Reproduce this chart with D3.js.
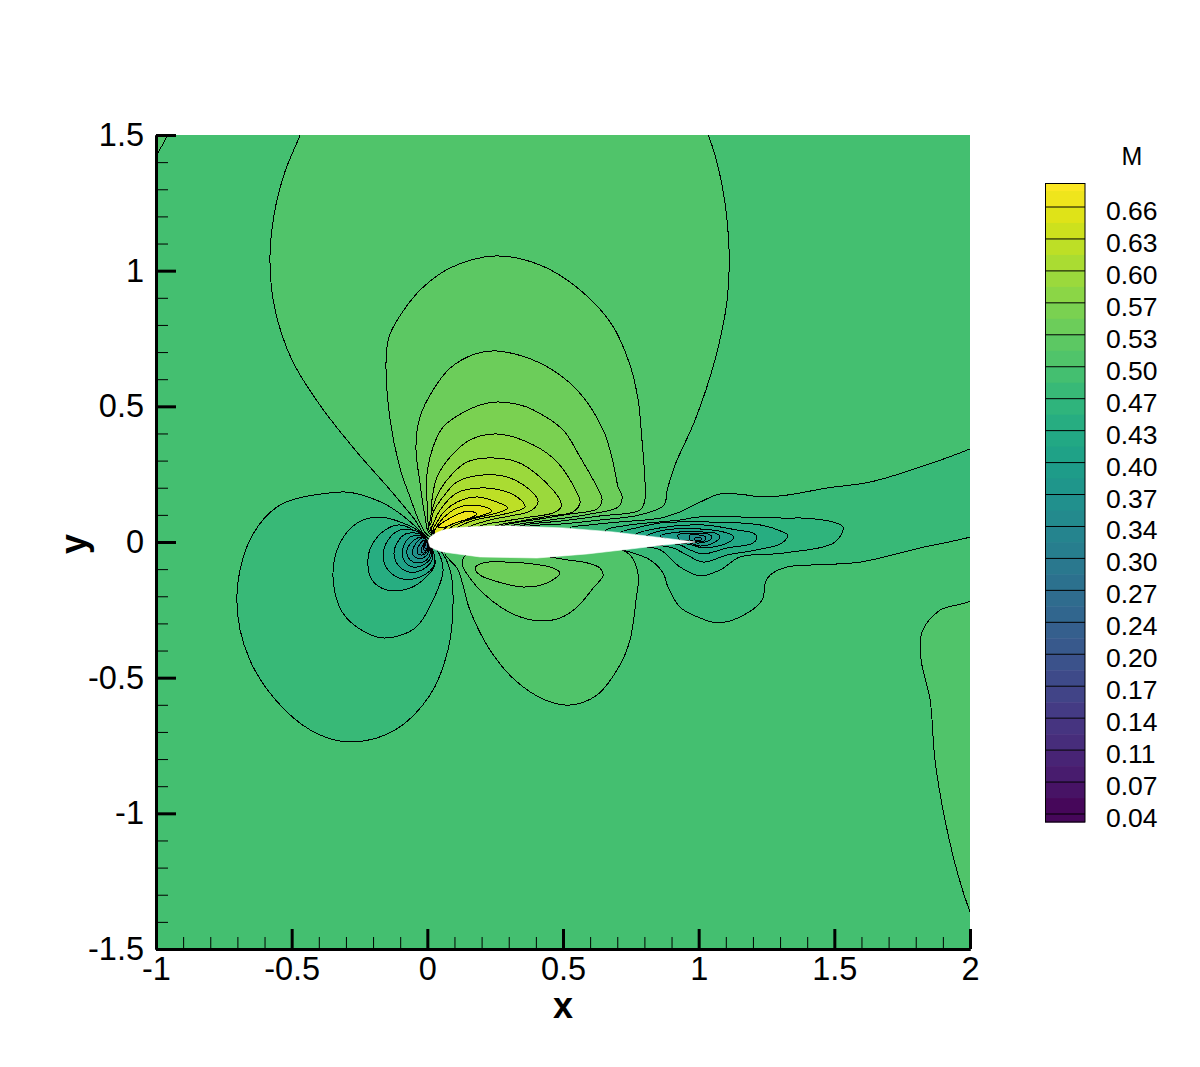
<!DOCTYPE html>
<html><head><meta charset="utf-8">
<style>html,body{margin:0;padding:0;background:#fff}svg{display:block}text{font-family:"Liberation Sans",Arial,sans-serif;fill:#000}</style>
<script src="https://cdn.jsdelivr.net/npm/d3@7"></script></head><body>
<svg id="c" width="1200" height="1067"></svg>
<script>
// ---- Mach values ----
const freestreamBand = 0.4887;
const colorbarLabels = ["0.66","0.63","0.60","0.57","0.53","0.50","0.47","0.43","0.40","0.37","0.34","0.30","0.27","0.24","0.20","0.17","0.14","0.11","0.07","0.04"];
const machMin = 0.0318, machMax = 0.6845;
const xTickValues = [-1,-0.5,0,0.5,1,1.5,2];
const yTickValues = [-1.5,-1,-0.5,0,0.5,1,1.5];

// ---- contours (x/c, y/c) ----
const U0=[[.003,.015],[-.045,.081],[-.137,.192],[-.266,.339],[-.396,.505],[-.499,.671],[-.561,.855],[-.580,1.032],[-.565,1.205],[-.525,1.364],[-.469,1.5],[-.451,1.556],[1.005,1.556],[1.035,1.5],[1.086,1.316],[1.112,1.076],[1.105,.892],[1.060,.671],[.987,.450],[.913,.284],[.884,.192],[.872,.136],[.784,.100],[.636,.081],[.489,.066],[.379,.059],[.194,.015]];
const U1=[[.006,.022],[-.027,.070],[-.064,.166],[-.101,.273],[-.137,.450],[-.152,.671],[-.140,.760],[-.090,.850],[-.020,.935],[.084,1.010],[.250,1.054],[.415,1.021],[.563,.929],[.681,.800],[.747,.652],[.777,.523],[.791,.376],[.802,.229],[.802,.155],[.784,.118],[.636,.096],[.489,.077],[.360,.063],[.194,.015]];
const U2=[[.010,.029],[-.008,.092],[-.027,.217],[-.042,.350],[-.027,.461],[.021,.560],[.084,.641],[.176,.693],[.257,.704],[.415,.660],[.552,.560],[.648,.413],[.685,.291],[.703,.203],[.718,.166],[.703,.129],[.600,.103],[.452,.081],[.323,.063],[.157,.015]];
const U3=[[.010,.037],[.003,.070],[-.001,.144],[-.001,.254],[.021,.350],[.058,.424],[.128,.475],[.194,.505],[.257,.516],[.342,.505],[.390,.487],[.500,.413],[.563,.313],[.625,.203],[.644,.155],[.625,.122],[.526,.103],[.415,.085],[.286,.063],[.157,.015]];
const U4=[[.014,.041],[.014,.081],[.017,.155],[.036,.240],[.084,.313],[.157,.376],[.257,.398],[.390,.358],[.478,.295],[.552,.181],[.563,.144],[.537,.111],[.452,.096],[.342,.077],[.250,.059],[.157,.015]];
const U5=[[.014,.044],[.021,.129],[.047,.192],[.095,.254],[.146,.295],[.231,.310],[.331,.295],[.415,.240],[.489,.155],[.493,.129],[.463,.107],[.379,.092],[.286,.077],[.194,.059],[.121,.015]];
const U6=[[.017,.048],[.021,.107],[.058,.166],[.109,.221],[.205,.247],[.305,.236],[.390,.181],[.408,.147],[.379,.114],[.305,.096],[.231,.081],[.150,.055],[.084,.015]];
const U7=[[.017,.044],[.025,.074],[.047,.118],[.109,.181],[.194,.199],[.268,.192],[.331,.166],[.360,.129],[.316,.111],[.250,.096],[.176,.081],[.113,.055],[.065,.015]];
const U8=[[.021,.044],[.032,.066],[.058,.107],[.109,.147],[.183,.166],[.257,.147],[.297,.125],[.257,.107],[.194,.092],[.139,.077],[.084,.052],[.047,.015]];
const U9=[[.025,.037],[.036,.059],[.058,.088],[.109,.125],[.157,.136],[.213,.129],[.238,.114],[.194,.096],[.139,.081],[.084,.063],[.058,.044],[.032,.015]];
const U10=[[.039,.055],[.084,.088],[.150,.114],[.183,.103],[.157,.088],[.102,.070],[.065,.055]];
const upperContours=[U0,U1,U2,U3,U4,U5,U6,U7,U8,U9,U10];
const upperBands=[.505,.5213,.5376,.554,.5703,.5866,.6029,.6192,.6355,.6519,.6682];

const W0=[[.636,.007],[.526,.052],[.600,.063],[.710,.074],[.858,.088],[.931,.111],[1.005,.147],[1.079,.177],[1.178,.173],[1.226,.166],[1.326,.173],[1.473,.199],[1.632,.221],[1.816,.276],[2.0,.343],[2.074,.376],[2.074,.044],[2.0,.018],[1.816,-.022],[1.595,-.074],[1.410,-.085],[1.326,-.092],[1.263,-.122],[1.245,-.151],[1.234,-.214],[1.153,-.276],[1.071,-.298],[1.005,-.280],[.931,-.240],[.887,-.166],[.869,-.114],[.821,-.066],[.747,-.037],[.636,-.011]];
const W1=[[.710,0],[.655,.041],[.747,.063],[.858,.074],[.931,.081],[.998,.092],[1.326,.088],[1.385,.088],[1.495,.074],[1.532,.055],[1.503,0],[1.311,-.041],[1.153,-.055],[1.079,-.103],[1.005,-.125],[.931,-.092],[.858,-.029],[.784,-.015]];
const W2=[[.784,0],[.710,.033],[.784,.055],[.858,.070],[1.016,.074],[1.226,.063],[1.311,.037],[1.329,.026],[1.307,-.004],[1.215,-.029],[1.105,-.048],[1.016,-.074],[.957,-.048],[.906,-.022],[.839,-.011]];
const W3=[[.821,0],[.766,.026],[.858,.052],[1.016,.063],[1.142,.044],[1.200,.033],[1.215,.018],[1.200,-.004],[1.105,-.022],[1.016,-.044],[.968,-.029],[.931,-.011],[.876,-.004]];
const W4=[[.858,.007],[.802,.018],[.858,.041],[1.005,.048],[1.105,.033],[1.130,.018],[1.105,-.004],[1.016,-.022],[.976,-.011],[.913,0]];
const W5=[[.895,.007],[.858,.022],[.931,.037],[1.005,.037],[1.060,.033],[1.079,.018],[1.060,0],[1.005,-.015],[.968,-.004],[.931,.004]];
const W6=[[.931,.007],[.924,.026],[.998,.033],[1.035,.029],[1.049,.018],[1.035,.004],[.998,-.004],[.961,.004]];
const W7=[[.968,.007],[.968,.026],[.998,.026],[1.020,.022],[1.027,.015],[1.020,.004],[.998,0],[.976,.004]];
const W8=[[.983,.011],[.998,.018],[1.009,.015],[1.009,.007],[.998,.004]];
const wakeContours=[W0,W1,W2,W3,W4,W5,W6,W7,W8];
const wakeBands=[.4724,.456,.4397,.4234,.4071,.3908,.3745,.3582,.3418];

const L0=[[.003,.007],[-.038,.052],[-.149,.136],[-.274,.181],[-.322,.184],[-.543,.136],[-.654,.007],[-.702,-.214],[-.654,-.435],[-.525,-.619],[-.396,-.711],[-.274,-.737],[-.119,-.693],[.010,-.564],[.076,-.398],[.095,-.214],[.084,-.103],[.047,-.029]];
const L1=[[-.027,.037],[-.090,.070],[-.174,.092],[-.259,.070],[-.322,-.004],[-.348,-.122],[-.314,-.258],[-.230,-.332],[-.156,-.354],[-.045,-.317],[.021,-.214],[.058,-.103],[.036,-.029]];
const L2=[[-.027,.026],[-.101,.063],[-.156,.044],[-.204,-.011],[-.219,-.066],[-.204,-.140],[-.149,-.177],[-.064,-.170],[-.008,-.133],[.028,-.085],[.017,-.029]];
const L3=[[-.034,.037],[-.101,.044],[-.145,.007],[-.163,-.048],[-.145,-.103],[-.093,-.136],[-.027,-.129],[.025,-.085],[.017,-.022]];
const L4=[[-.027,.029],[-.082,.029],[-.112,-.004],[-.123,-.041],[-.108,-.085],[-.067,-.111],[-.020,-.103],[.017,-.066],[.010,-.011]];
const L5=[[-.023,.022],[-.064,.018],[-.086,-.011],[-.093,-.041],[-.082,-.074],[-.053,-.092],[-.016,-.085],[.014,-.055],[.006,-.011]];
const L6=[[-.020,.018],[-.049,.007],[-.071,-.018],[-.075,-.044],[-.064,-.066],[-.038,-.077],[-.008,-.070],[.010,-.044],[.003,-.011]];
const L7=[[-.016,.015],[-.038,0],[-.053,-.026],[-.053,-.048],[-.038,-.059],[-.016,-.059],[.003,-.041],[.003,-.011]];
const L8=[[-.012,.007],[-.027,-.007],[-.038,-.029],[-.034,-.044],[-.020,-.048],[-.001,-.037],[.003,-.011]];
const L9=[[-.008,.004],[-.016,-.011],[-.023,-.029],[-.016,-.041],[-.001,-.029],[.003,-.007]];
const L10=[[-.006,.002],[-.012,-.012],[-.014,-.026],[-.008,-.032],[-.001,-.022]];
const L11=[[-.004,0],[-.008,-.012],[-.009,-.022],[-.004,-.025],[.001,-.016]];
const leadingEdgeContours=[L0,L1,L2,L3,L4,L5,L6,L7,L8,L9,L10,L11];
const leadingEdgeBands=[.4724,.456,.4397,.4234,.4071,.3908,.3745,.3582,.3418,.3255,.309,.293];

const R0=[[.065,-.037],[.113,-.103],[.157,-.251],[.231,-.398],[.323,-.509],[.434,-.582],[.526,-.601],[.625,-.564],[.710,-.453],[.747,-.361],[.769,-.214],[.777,-.122],[.747,-.048],[.636,-.011],[.268,-.011]];
const R1=[[.128,-.077],[.157,-.133],[.205,-.188],[.275,-.243],[.342,-.276],[.415,-.291],[.489,-.280],[.552,-.240],[.611,-.170],[.648,-.122],[.636,-.096],[.589,-.077],[.515,-.066],[.452,-.055],[.268,-.029],[.157,-.037]];
const R2=[[.176,-.096],[.194,-.122],[.275,-.151],[.353,-.166],[.441,-.151],[.489,-.114],[.463,-.096],[.390,-.081],[.294,-.074],[.205,-.077]];
const lowerContours=[R0,R1,R2];
const lowerBands=[.505,.5213,.5376];

const cornerContour=[[-1.02,1.39],[-.99,1.44],[-.96,1.51],[-1.05,1.55]];
const farRightContour=[[2.0,-.217],[1.890,-.251],[1.823,-.332],[1.820,-.435],[1.853,-.582],[1.871,-.804],[1.908,-1.025],[1.956,-1.227],[2.0,-1.364],[2.074,-1.541],[2.074,-.140]];
const edgeContours=[cornerContour,farRightContour];
const edgeBands=[.505,.505];

const airfoil=[[.003,.004],[.010,.018],[.032,.033],[.058,.044],[.102,.052],[.146,.055],[.231,.059],[.316,.059],[.500,.052],[.685,.037],[.869,.015],[.987,0],[.869,-.011],[.747,-.026],[.589,-.044],[.404,-.059],[.194,-.055],[.058,-.037],[.032,-.029],[.010,-.018]];

// ---- drawing ----
const svg=d3.select("#c");
const x=d3.scaleLinear().domain([-1,2]).range([156,970]);
const y=d3.scaleLinear().domain([-1.5,1.5]).range([949,135]);
const color=d3.scaleSequential(d3.interpolateViridis).domain([machMin,machMax]);
svg.append("defs").append("clipPath").attr("id","plot").append("rect")
  .attr("x",x(-1)).attr("y",y(1.5)).attr("width",x(2)-x(-1)).attr("height",y(-1.5)-y(1.5));
const plot=svg.append("g").attr("clip-path","url(#plot)");
plot.append("rect").attr("x",x(-1)).attr("y",y(1.5)).attr("width",x(2)-x(-1)).attr("height",y(-1.5)-y(1.5)).attr("fill",color(freestreamBand));
const line=d3.line().x(d=>x(d[0])).y(d=>y(d[1])).curve(d3.curveCatmullRomClosed.alpha(0.5));
function draw(contours,bands){
  plot.append("g").attr("shape-rendering","crispEdges").selectAll("path").data(contours).join("path")
    .attr("d",line).attr("fill",(d,i)=>color(bands[i])).attr("stroke","#000").attr("stroke-width",1);
}
draw(edgeContours,edgeBands);
draw(upperContours,upperBands);
draw(wakeContours,wakeBands);
draw(lowerContours,lowerBands);
draw(leadingEdgeContours,leadingEdgeBands);
plot.append("path").datum(airfoil)
  .attr("d",d3.line().x(d=>x(d[0])).y(d=>y(d[1])).curve(d3.curveLinearClosed))
  .attr("fill","#fff").attr("stroke","#fff").attr("stroke-width",0.6);

// axes
function styleAxis(g,minor){
  g.select(".domain").attr("stroke","#000").attr("stroke-width",3);
  g.selectAll(".tick line").attr("stroke","#000").attr("stroke-width",minor?1:3);
  g.selectAll("text").attr("font-size",32.5).attr("font-family",'"Liberation Sans",Arial,sans-serif').attr("fill","#000");
}
const minorValues=d3.range(-15,16).map(d=>d/10);
const minorX=d3.range(-10,21).map(d=>d/10);
svg.append("g").attr("transform",`translate(${x(-1)},0)`).call(d3.axisLeft(y).tickValues(minorValues).tickSize(-12).tickFormat("").tickSizeOuter(0)).call(g=>styleAxis(g,true));
svg.append("g").attr("transform",`translate(0,${y(-1.5)})`).call(d3.axisBottom(x).tickValues(minorX).tickSize(-12).tickFormat("").tickSizeOuter(0)).call(g=>styleAxis(g,true));
svg.append("g").attr("transform",`translate(${x(-1)},0)`).call(d3.axisLeft(y).tickValues(yTickValues).tickSize(-20).tickPadding(12).tickSizeOuter(0).tickFormat(d=>String(d))).call(g=>styleAxis(g,false));
svg.append("g").attr("transform",`translate(0,${y(-1.5)})`).call(d3.axisBottom(x).tickValues(xTickValues).tickSize(-20).tickPadding(8).tickSizeOuter(0).tickFormat(d=>String(d))).call(g=>styleAxis(g,false));
svg.append("text").attr("x",563).attr("y",1018).attr("text-anchor","middle").attr("font-size",36).attr("font-weight","bold").text("x");
svg.append("text").attr("transform","translate(86,544) rotate(-90)").attr("text-anchor","middle").attr("font-size",36).attr("font-weight","bold").text("y");

// colour bar
const barX=1045, barW=40, barTop=183, barBottom=822;
const barY=d3.scalePoint().domain(colorbarLabels).range([207,814]);
const halfStep=(barY("0.04")-barY("0.66"))/19/2;
const edges=[barTop].concat(d3.range(0,39).map(i=>barY("0.66")-halfStep+i*halfStep),[barBottom]);
const bar=svg.append("g");
const barT=d3.scaleLinear().domain([barBottom,barTop]).range([machMin,machMax]);
bar.selectAll("rect").data(d3.pairs(edges)).join("rect")
  .attr("x",barX).attr("width",barW).attr("y",d=>d[0]).attr("height",d=>d[1]-d[0]+0.5)
  .attr("fill",d=>color(barT((d[0]+d[1])/2)));
bar.selectAll("line").data(colorbarLabels).join("line")
  .attr("x1",barX).attr("x2",barX+barW).attr("y1",d=>barY(d)).attr("y2",d=>barY(d)).attr("stroke","#000").attr("stroke-width",1);
bar.append("rect").attr("x",barX+.5).attr("y",barTop+.5).attr("width",barW-.5).attr("height",barBottom-barTop-.5).attr("fill","none").attr("stroke","#000");
svg.append("g").selectAll("text").data(colorbarLabels).join("text")
  .attr("x",1106).attr("y",d=>barY(d)+13).attr("font-size",26.5).text(d=>d);
svg.append("text").attr("x",1132).attr("y",165).attr("text-anchor","middle").attr("font-size",25).text("M");
</script></body></html>
